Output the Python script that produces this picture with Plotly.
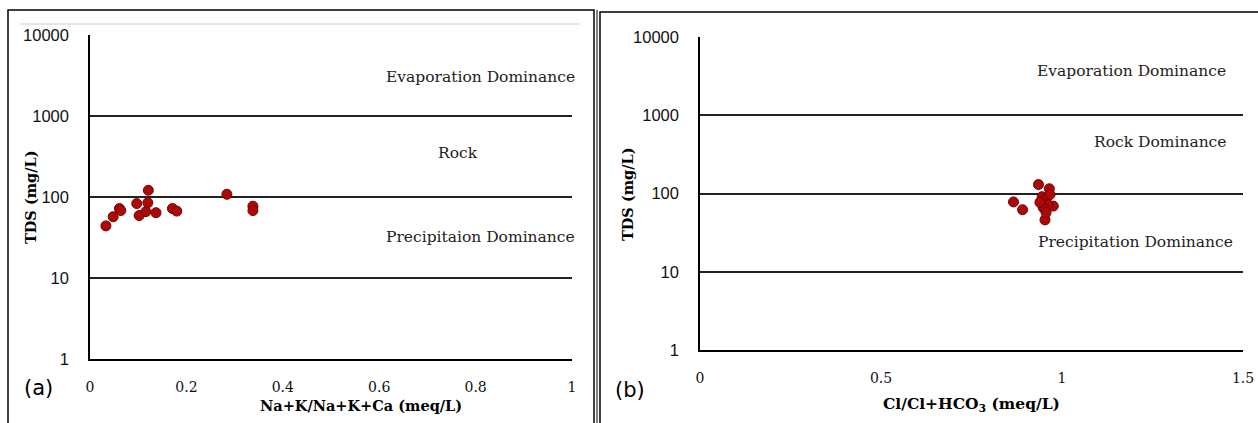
import plotly.graph_objects as go

# Panel (a): Na+K/(Na+K+Ca) vs TDS
a_x = [0.033, 0.048, 0.061, 0.064, 0.097, 0.102, 0.121, 0.120, 0.116, 0.137, 0.171, 0.180, 0.284, 0.338, 0.338]
a_tds = [44, 57, 72, 68, 83, 59, 121, 85, 66, 64, 72, 67, 108, 77, 68]

# Panel (b): Cl/(Cl+HCO3) vs TDS
b_x = [0.935, 0.965, 0.866, 0.891, 0.953, 0.976, 0.945, 0.956, 0.961, 0.948, 0.967, 0.956, 0.939]
b_tds = [130, 115, 78, 62, 46, 69, 91, 84, 72, 66, 97, 57, 77]

y_ticks = [1, 10, 100, 1000, 10000]
a_xticks = [0, 0.2, 0.4, 0.6, 0.8, 1]
b_xticks = [0, 0.5, 1, 1.5]

W, H = 1258, 423
def px_x(p): return p / W
def px_y(p): return (H - p) / H

red = "#AA0A0A"
fig = go.Figure()
fig.add_trace(go.Scatter(x=a_x, y=a_tds, mode="markers", xaxis="x", yaxis="y",
                         marker=dict(size=10, color=red, line=dict(color="#7a0000", width=1)),
                         showlegend=False))
fig.add_trace(go.Scatter(x=b_x, y=b_tds, mode="markers", xaxis="x2", yaxis="y2",
                         marker=dict(size=10, color=red, line=dict(color="#7a0000", width=1)),
                         showlegend=False))

serif = "DejaVu Serif"
sans = "Liberation Sans"
ytickfont = dict(family=sans, size=16.5, color="#111111")
xtickfont = dict(family=serif, size=14, color="#111111")

common_y = dict(type="log", range=[0, 4], tickvals=y_ticks, ticktext=[str(v) for v in y_ticks],
                showgrid=True, gridcolor="#222222", gridwidth=1.5, showline=True, linecolor="black",
                linewidth=1.5, zeroline=False, ticks="outside", ticklen=16, tickcolor="rgba(0,0,0,0)",
                tickfont=ytickfont, automargin=False)
fig.update_layout(
    width=W, height=H, autosize=False,
    margin=dict(l=0, r=0, t=0, b=0, pad=0, autoexpand=False),
    paper_bgcolor="white", plot_bgcolor="white",
    xaxis=dict(domain=[px_x(90), px_x(572)], range=[0, 1], tickvals=a_xticks,
               ticktext=["0", "0.2", "0.4", "0.6", "0.8", "1"], showgrid=False, zeroline=False,
               showline=True, linecolor="black", linewidth=1.5, ticks="outside", ticklen=14,
               tickcolor="rgba(0,0,0,0)", tickfont=xtickfont, anchor="y", automargin=False),
    yaxis=dict(domain=[px_y(359), px_y(35)], anchor="x", **common_y),
    xaxis2=dict(domain=[px_x(700), px_x(1243)], range=[0, 1.5], tickvals=b_xticks,
                ticktext=["0", "0.5", "1", "1.5"], showgrid=False, zeroline=False,
                showline=True, linecolor="black", linewidth=1.5, ticks="outside", ticklen=14,
                tickcolor="rgba(0,0,0,0)", tickfont=xtickfont, anchor="y2", automargin=False),
    yaxis2=dict(domain=[px_y(350), px_y(37)], anchor="x2", **common_y),
)

ann_font = dict(family=serif, size=15.5, color="#222222")
anns = [
    ("x", "y", 0.81, 3.48, "Evaporation Dominance"),
    ("x", "y", 0.763, 2.54, "Rock"),
    ("x", "y", 0.81, 1.506, "Precipitaion Dominance"),
    ("x2", "y2", 1.193, 3.564, "Evaporation Dominance"),
    ("x2", "y2", 1.271, 2.654, "Rock Dominance"),
    ("x2", "y2", 1.202, 1.385, "Precipitation Dominance"),
]
for xr, yr, xv, yv, t in anns:
    fig.add_annotation(xref=xr, yref=yr, x=xv, y=yv, text=t, showarrow=False, font=ann_font,
                       xanchor="center", yanchor="middle")

def paper_text(xp, yp, text, font, angle=0):
    fig.add_annotation(xref="paper", yref="paper", x=px_x(xp), y=px_y(yp), text=text,
                       showarrow=False, font=font, textangle=angle, xanchor="center", yanchor="middle")

title_font = dict(family=serif, size=14.5, color="black")
paper_text(361, 405, "<b>Na+K/Na+K+Ca (meq/L)</b>", title_font)
paper_text(971, 404, "<b>Cl/Cl+HCO<sub>3</sub> (meq/L)</b>", dict(family=serif, size=15.5, color="black"))
paper_text(30, 197, "<b>TDS (mg/L)</b>", title_font, -90)
paper_text(627, 194, "<b>TDS (mg/L)</b>", title_font, -90)
lab_font = dict(family="DejaVu Sans", size=21, color="black")
paper_text(38, 388, "(a)", lab_font)
paper_text(630, 390, "(b)", lab_font)

# panel borders
fig.add_shape(type="rect", xref="paper", yref="paper", x0=px_x(8), x1=px_x(594), y0=px_y(425), y1=px_y(10),
              line=dict(color="black", width=1.5))
fig.add_shape(type="line", xref="paper", yref="paper", x0=px_x(597), x1=px_x(597), y0=px_y(425), y1=px_y(10),
              line=dict(color="black", width=1))
fig.add_shape(type="rect", xref="paper", yref="paper", x0=px_x(600), x1=px_x(1262), y0=px_y(425), y1=px_y(12),
              line=dict(color="black", width=1.5))
fig.add_shape(type="line", xref="paper", yref="paper", x0=px_x(20), x1=px_x(580), y0=px_y(24), y1=px_y(24),
              line=dict(color="#cccccc", width=1))

fig.write_html("out.html", config={"displayModeBar": False},
               post_script="document.body.style.margin='0px';document.body.style.overflow='hidden';")
